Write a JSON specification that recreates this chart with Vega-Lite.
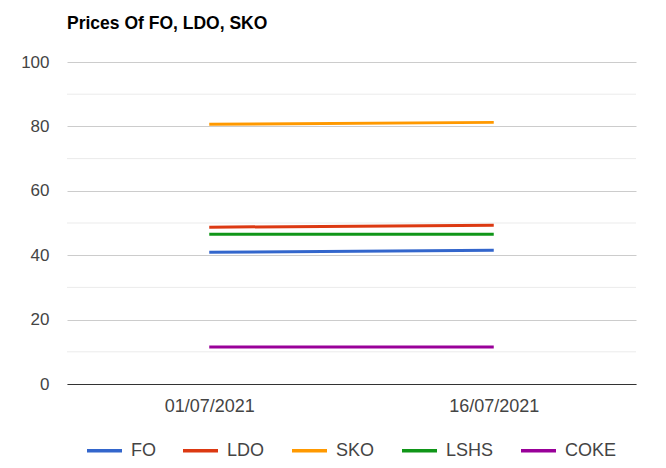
{
  "$schema": "https://vega.github.io/schema/vega-lite/v6.json",
  "autosize": "none",
  "width": 569,
  "height": 322,
  "padding": {"left": 67, "top": 62, "right": 30, "bottom": 84},
  "background": "white",
  "title": {"text": "Prices Of FO, LDO, SKO", "anchor": "start", "frame": "group", "offset": 21, "fontSize": 17.5, "fontWeight": "bold", "color": "#000000", "font": "Liberation Sans"},
  "config": {
    "view": {"stroke": null},
    "font": "Liberation Sans"
  },
  "datasets": {
    "prices": [
      {"date": "01/07/2021", "fuel": "FO", "price": 40.9},
      {"date": "16/07/2021", "fuel": "FO", "price": 41.5},
      {"date": "01/07/2021", "fuel": "LDO", "price": 48.7},
      {"date": "16/07/2021", "fuel": "LDO", "price": 49.3},
      {"date": "01/07/2021", "fuel": "SKO", "price": 80.65},
      {"date": "16/07/2021", "fuel": "SKO", "price": 81.25},
      {"date": "01/07/2021", "fuel": "LSHS", "price": 46.5},
      {"date": "16/07/2021", "fuel": "LSHS", "price": 46.5},
      {"date": "01/07/2021", "fuel": "COKE", "price": 11.5},
      {"date": "16/07/2021", "fuel": "COKE", "price": 11.5}
    ],
    "minor": [{"v": 10}, {"v": 30}, {"v": 50}, {"v": 70}, {"v": 90}]
  },
  "layer": [
    {
      "data": {"name": "minor"},
      "mark": {"type": "rule", "color": "#ebebeb", "strokeWidth": 1},
      "encoding": {
        "y": {"field": "v", "type": "quantitative", "scale": {"domain": [0, 100]}}
      }
    },
    {
      "data": {"name": "prices"},
      "mark": {"type": "line", "strokeWidth": 3},
      "encoding": {
        "x": {
          "field": "date", "type": "ordinal", "title": null,
          "scale": {"type": "point", "padding": 0.5},
          "axis": {"labelAngle": 0, "labelFontSize": 18, "labelColor": "#444444", "labelPadding": 13, "ticks": false, "domainColor": "#333333", "domainWidth": 1, "grid": false}
        },
        "y": {
          "field": "price", "type": "quantitative", "title": null,
          "scale": {"domain": [0, 100], "nice": false},
          "axis": {"values": [0, 20, 40, 60, 80, 100], "labelFontSize": 17, "labelColor": "#444444", "labelPadding": 18, "ticks": false, "domain": false, "gridColor": "#cccccc", "gridWidth": 1}
        },
        "color": {
          "field": "fuel", "type": "nominal",
          "scale": {"domain": ["FO", "LDO", "SKO", "LSHS", "COKE"], "range": ["#3366cc", "#dc3912", "#ff9900", "#109618", "#990099"]},
          "legend": {
            "title": null, "orient": "none", "direction": "horizontal",
            "legendX": 18, "legendY": 369,
            "symbolType": "stroke", "symbolSize": 1225, "symbolStrokeWidth": 3.5,
            "labelFontSize": 18, "labelColor": "#444444", "labelOffset": 7, "columnPadding": 20
          }
        }
      }
    }
  ]
}
